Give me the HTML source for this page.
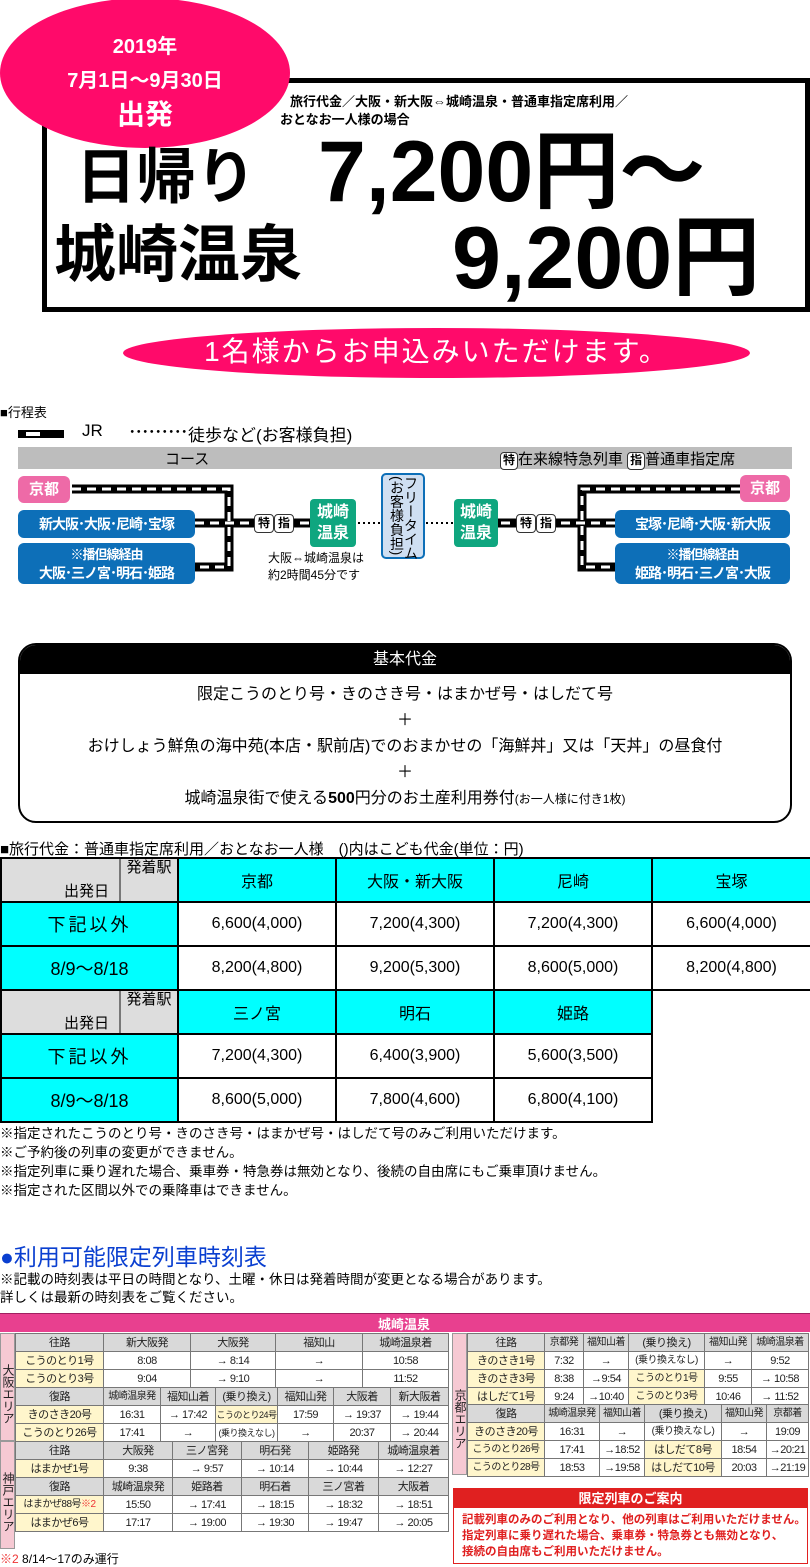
<!DOCTYPE html>
<html><head><meta charset="utf-8">
<style>
*{margin:0;padding:0;box-sizing:border-box}
body{width:810px;height:1567px;position:relative;background:#fff;font-family:"Liberation Sans","Noto Sans CJK JP",sans-serif;color:#000;overflow:hidden}
.a{position:absolute;white-space:nowrap}
.b{font-weight:bold}
table{border-collapse:collapse;table-layout:fixed;position:absolute}
.ft td{border:2px solid #000;text-align:center;font-size:16px;height:44px}
.cy{background:#00ffff}
.tt td{border:1px solid #777;font-size:11px;letter-spacing:-0.5px;text-align:center;height:18px;line-height:16px;padding:0;white-space:nowrap;overflow:hidden;color:#222}
.tt td.d{border-left:1px dashed #999}
.h{background:#d9d9d9}
.y{background:#fff6cc}
.side{position:absolute;background:#f6c9d3;font-size:12px;line-height:13px;text-align:center;writing-mode:vertical-rl;border:1px solid #999;color:#222}
.blue{position:absolute;background:#0d6fb8;color:#fff;border-radius:6px;text-align:center;font-size:14px;letter-spacing:-1px;font-weight:bold;white-space:nowrap}
.pk{position:absolute;background:#ee6aa7;color:#fff;border-radius:6px;text-align:center;font-size:15px;font-weight:bold}
.gr{position:absolute;background:#0fa67f;color:#fff;border-radius:4px;text-align:center;font-size:16px;font-weight:bold;line-height:21px}
.tk{display:inline-block;border:1.5px solid #333;border-radius:4px;background:#fff;font-size:12px;font-weight:bold;width:20px;height:19px;line-height:16px;text-align:center}
</style></head><body>

<!-- header -->
<div class="a" style="left:42px;top:78px;width:768px;height:234px;border:5px solid #000"></div>
<div class="a" style="left:0;top:-2px;width:290px;height:150px;border-radius:50%;background:#ff0a6a"></div>
<div class="a b" style="left:0;top:30px;width:290px;text-align:center;color:#fff;font-size:20px;line-height:34px">2019年<br>7月1日～9月30日<br><span style="font-size:28px">出発</span></div>
<div class="a b" style="left:290px;top:91px;font-size:13px">旅行代金／大阪・新大阪⇔城崎温泉・普通車指定席利用／</div>
<div class="a b" style="left:280px;top:109px;font-size:13px">おとなお一人様の場合</div>
<div class="a b" style="left:76px;top:140px;font-size:60px;line-height:76px">日帰り</div>
<div class="a b" style="left:318px;top:122px;font-size:86px;line-height:100px">7,200円～</div>
<div class="a b" style="left:54px;top:216px;font-size:62px;line-height:80px">城崎温泉</div>
<div class="a b" style="left:452px;top:208px;font-size:88px;line-height:100px">9,200円</div>
<div class="a" style="left:123px;top:328px;width:627px;height:50px;border-radius:50%;background:#ff0a6a"></div>
<div class="a" style="left:123px;top:332px;width:627px;text-align:center;color:#fff;font-size:28px;letter-spacing:2px;line-height:40px">1名様からお申込みいただけます。</div>

<!-- route -->
<div class="a" style="left:0;top:402px;font-size:13px">■行程表</div>
<div class="a" style="left:18px;top:430px;width:46px;height:8px;background:#000"><div style="position:absolute;left:8px;top:2px;width:14px;height:4px;background:#fff"></div></div>
<div class="a" style="left:82px;top:421px;font-size:17px">JR</div>
<div class="a" style="left:128px;top:418px;font-size:17px;letter-spacing:-2px">･････････</div>
<div class="a" style="left:188px;top:421px;font-size:17px">徒歩など(お客様負担)</div>
<div class="a" style="left:18px;top:447px;width:774px;height:22px;background:#bdbdbd"></div>
<div class="a" style="left:165px;top:448px;font-size:15px">コース</div>
<div class="a" style="left:500px;top:448px;font-size:15px"><span class="tk" style="width:18px;height:18px;line-height:15px">特</span>在来線特急列車 <span class="tk" style="width:18px;height:18px;line-height:15px">指</span>普通車指定席</div>

<svg class="a" style="left:0;top:470px" width="810" height="120">
<g fill="none">
<path d="M72 19H229V97H195M195 53H310" stroke="#000" stroke-width="9"/>
<path d="M72 19H229V97H195M195 53H310" stroke="#fff" stroke-width="3" stroke-dasharray="9 6"/>
<path d="M740 19H582V97H615M615 53H498" stroke="#000" stroke-width="9"/>
<path d="M740 19H582V97H615M615 53H498" stroke="#fff" stroke-width="3" stroke-dasharray="9 6"/>
<path d="M358 53H381M426 53H454" stroke="#000" stroke-width="2" stroke-dasharray="2 3"/>
</g></svg>
<div class="a" style="left:254px;top:514px"><span class="tk">特</span><span class="tk">指</span></div>
<div class="a" style="left:516px;top:514px"><span class="tk">特</span><span class="tk">指</span></div>
<div class="pk" style="left:18px;top:476px;width:52px;height:27px;line-height:27px">京都</div>
<div class="blue" style="left:18px;top:510px;width:177px;height:28px;line-height:28px">新大阪･大阪･尼崎･宝塚</div>
<div class="blue" style="left:18px;top:543px;width:177px;height:41px;line-height:19px;padding-top:2px"><span style="font-size:13px">※播但線経由</span><br>大阪･三ノ宮･明石･姫路</div>
<div class="gr" style="left:310px;top:499px;width:46px;height:48px;padding-top:3px">城崎<br>温泉</div>
<div class="a" style="left:381px;top:473px;width:44px;height:86px;border:2px solid #0d6fb8;background:#cfdff2;border-radius:5px"></div>
<div class="a" style="left:390px;top:476px;font-size:14px;line-height:14px;writing-mode:vertical-rl">フリータイム<br>(お客様負担)</div>
<div class="gr" style="left:454px;top:499px;width:44px;height:48px;padding-top:3px">城崎<br>温泉</div>
<div class="a" style="left:268px;top:550px;font-size:12px;line-height:17px">大阪⇔城崎温泉は<br>約2時間45分です</div>
<div class="pk" style="left:740px;top:475px;width:50px;height:27px;line-height:27px">京都</div>
<div class="blue" style="left:615px;top:510px;width:175px;height:28px;line-height:28px">宝塚･尼崎･大阪･新大阪</div>
<div class="blue" style="left:615px;top:543px;width:175px;height:41px;line-height:19px;padding-top:2px"><span style="font-size:13px">※播但線経由</span><br>姫路･明石･三ノ宮･大阪</div>

<!-- base price -->
<div class="a" style="left:18px;top:643px;width:774px;height:180px;border:2px solid #000;border-radius:18px;overflow:hidden">
<div style="background:#000;color:#fff;height:29px;line-height:29px;text-align:center;font-size:16px">基本代金</div>
<div style="text-align:center;font-size:16px;line-height:26px;padding-top:8px">限定こうのとり号・きのさき号・はまかぜ号・はしだて号<br>＋<br>おけしょう鮮魚の海中苑(本店・駅前店)でのおまかせの「海鮮丼」又は「天丼」の昼食付<br>＋<br>城崎温泉街で使える<b>500</b>円分のお土産利用券付<span style="font-size:12px">(お一人様に付き1枚)</span></div>
</div>

<!-- fare table -->
<div class="a" style="left:0;top:838px;font-size:15px">■旅行代金：普通車指定席利用／おとなお一人様　()内はこども代金(単位：円)</div>
<table class="ft" style="left:0;top:857px;width:810px">
<colgroup><col style="width:177px"><col style="width:158px"><col style="width:158px"><col style="width:158px"><col style="width:159px"></colgroup>
<tr><td style="background:#ddd;position:relative;height:44px"><span style="position:absolute;right:0;top:0;width:58px;height:100%;border-left:2px solid #777;font-size:15px;line-height:18px">発着駅</span><span style="position:absolute;left:62px;bottom:0;font-size:15px">出発日</span></td><td class="cy">京都</td><td class="cy">大阪・新大阪</td><td class="cy">尼崎</td><td class="cy">宝塚</td></tr>
<tr><td class="cy" style="font-size:18px;letter-spacing:3px">下記以外</td><td>6,600(4,000)</td><td>7,200(4,300)</td><td>7,200(4,300)</td><td>6,600(4,000)</td></tr>
<tr><td class="cy" style="font-size:18px">8/9～8/18</td><td>8,200(4,800)</td><td>9,200(5,300)</td><td>8,600(5,000)</td><td>8,200(4,800)</td></tr>
<tr><td style="background:#ddd;position:relative"><span style="position:absolute;right:0;top:0;width:58px;height:100%;border-left:2px solid #777;font-size:15px;line-height:18px">発着駅</span><span style="position:absolute;left:62px;bottom:0;font-size:15px">出発日</span></td><td class="cy">三ノ宮</td><td class="cy">明石</td><td class="cy">姫路</td><td style="border:none;border-left:2px solid #000"></td></tr>
<tr><td class="cy" style="font-size:18px;letter-spacing:3px">下記以外</td><td>7,200(4,300)</td><td>6,400(3,900)</td><td>5,600(3,500)</td><td style="border:none;border-left:2px solid #000"></td></tr>
<tr><td class="cy" style="font-size:18px">8/9～8/18</td><td>8,600(5,000)</td><td>7,800(4,600)</td><td>6,800(4,100)</td><td style="border:none;border-left:2px solid #000"></td></tr>
</table>
<div class="a" style="left:0;top:1124px;font-size:13.5px;line-height:19px">※指定されたこうのとり号・きのさき号・はまかぜ号・はしだて号のみご利用いただけます。<br>※ご予約後の列車の変更ができません。<br>※指定列車に乗り遅れた場合、乗車券・特急券は無効となり、後続の自由席にもご乗車頂けません。<br>※指定された区間以外での乗降車はできません。</div>

<div class="a" style="left:0;top:1243px;font-size:23px;color:#0a3fd0;line-height:28px">●利用可能限定列車時刻表</div>
<div class="a" style="left:0;top:1271px;font-size:13.5px;line-height:18px">※記載の時刻表は平日の時間となり、土曜・休日は発着時間が変更となる場合があります。<br>詳しくは最新の時刻表をご覧ください。</div>

<!-- timetable -->
<div class="a" style="left:0;top:1313px;width:810px;height:19px;background:#e8408f;border-top:1px solid #a02060"></div>
<div class="a b" style="left:378px;top:1314px;color:#fff;font-size:13px">城崎温泉</div>

<div class="side" style="left:0;top:1333px;width:15px;height:108px;padding-top:14px">大阪エリア</div>
<table class="tt" style="left:15px;top:1333px;width:433px">
<colgroup><col style="width:88px"><col style="width:87px"><col style="width:85px"><col style="width:87px"><col style="width:86px"></colgroup>
<tr><td class="h">往路</td><td class="h">新大阪発</td><td class="h d">大阪発</td><td class="h d">福知山</td><td class="h d">城崎温泉着</td></tr>
<tr><td class="y">こうのとり1号</td><td>8:08</td><td class="d">→ 8:14</td><td class="d">→</td><td class="d">10:58</td></tr>
<tr><td class="y">こうのとり3号</td><td>9:04</td><td class="d">→ 9:10</td><td class="d">→</td><td class="d">11:52</td></tr>
</table>
<table class="tt" style="left:15px;top:1387px;width:433px">
<colgroup><col style="width:88px"><col style="width:57px"><col style="width:55px"><col style="width:62px"><col style="width:56px"><col style="width:57px"><col style="width:58px"></colgroup>
<tr><td class="h">復路</td><td class="h" style="font-size:10px">城崎温泉発</td><td class="h d">福知山着</td><td class="h">(乗り換え)</td><td class="h">福知山発</td><td class="h d">大阪着</td><td class="h d">新大阪着</td></tr>
<tr><td class="y">きのさき20号</td><td>16:31</td><td class="d">→ 17:42</td><td class="y" style="font-size:9px">こうのとり24号</td><td>17:59</td><td class="d">→ 19:37</td><td class="d">→ 19:44</td></tr>
<tr><td class="y">こうのとり26号</td><td>17:41</td><td class="d">→</td><td style="font-size:9px">(乗り換えなし)</td><td>→</td><td class="d">20:37</td><td class="d">→ 20:44</td></tr>
<tr><td class="y">こうのとり28号</td><td>18:53</td><td class="d">→</td><td style="font-size:9px">(乗り換えなし)</td><td>→</td><td class="d">21:36</td><td class="d">→ 21:44</td></tr>
</table>
<div class="side" style="left:0;top:1441px;width:15px;height:108px;padding-top:14px">神戸エリア</div>
<table class="tt" style="left:15px;top:1441px;width:433px">
<colgroup><col style="width:88px"><col style="width:69px"><col style="width:69px"><col style="width:67px"><col style="width:70px"><col style="width:70px"></colgroup>
<tr><td class="h">往路</td><td class="h">大阪発</td><td class="h d">三ノ宮発</td><td class="h d">明石発</td><td class="h d">姫路発</td><td class="h d">城崎温泉着</td></tr>
<tr><td class="y">はまかぜ1号</td><td>9:38</td><td class="d">→ 9:57</td><td class="d">→ 10:14</td><td class="d">→ 10:44</td><td class="d">→ 12:27</td></tr>
<tr><td class="h">復路</td><td class="h">城崎温泉発</td><td class="h d">姫路着</td><td class="h d">明石着</td><td class="h d">三ノ宮着</td><td class="h d">大阪着</td></tr>
<tr><td class="y" style="font-size:10px">はまかぜ88号<span style="color:#e33">※2</span></td><td>15:50</td><td class="d">→ 17:41</td><td class="d">→ 18:15</td><td class="d">→ 18:32</td><td class="d">→ 18:51</td></tr>
<tr><td class="y">はまかぜ6号</td><td>17:17</td><td class="d">→ 19:00</td><td class="d">→ 19:30</td><td class="d">→ 19:47</td><td class="d">→ 20:05</td></tr>
</table>
<div class="a" style="left:0;top:1550px;font-size:12px"><span style="color:#e33">※2</span> 8/14～17のみ運行</div>

<div class="side" style="left:452px;top:1333px;width:15px;height:142px;padding-top:30px">京都エリア</div>
<table class="tt" style="left:467px;top:1333px;width:341px">
<colgroup><col style="width:77px"><col style="width:39px"><col style="width:45px"><col style="width:76px"><col style="width:47px"><col style="width:57px"></colgroup>
<tr><td class="h">往路</td><td class="h" style="font-size:10px">京都発</td><td class="h d" style="font-size:10px">福知山着</td><td class="h">(乗り換え)</td><td class="h" style="font-size:10px">福知山発</td><td class="h d" style="font-size:10px">城崎温泉着</td></tr>
<tr><td class="y">きのさき1号</td><td>7:32</td><td class="d">→</td><td style="font-size:10px">(乗り換えなし)</td><td>→</td><td class="d">9:52</td></tr>
<tr><td class="y">きのさき3号</td><td>8:38</td><td class="d">→9:54</td><td class="y" style="font-size:10px">こうのとり1号</td><td>9:55</td><td class="d">→ 10:58</td></tr>
<tr><td class="y">はしだて1号</td><td>9:24</td><td class="d">→10:40</td><td class="y" style="font-size:10px">こうのとり3号</td><td>10:46</td><td class="d">→ 11:52</td></tr>
</table>
<table class="tt" style="left:467px;top:1404px;width:341px">
<colgroup><col style="width:77px"><col style="width:55px"><col style="width:45px"><col style="width:77px"><col style="width:45px"><col style="width:42px"></colgroup>
<tr><td class="h">復路</td><td class="h" style="font-size:10px">城崎温泉発</td><td class="h d" style="font-size:10px">福知山着</td><td class="h">(乗り換え)</td><td class="h" style="font-size:10px">福知山発</td><td class="h d" style="font-size:10px">京都着</td></tr>
<tr><td class="y">きのさき20号</td><td>16:31</td><td class="d">→</td><td style="font-size:10px">(乗り換えなし)</td><td>→</td><td class="d">19:09</td></tr>
<tr><td class="y" style="font-size:10px">こうのとり26号</td><td>17:41</td><td class="d">→18:52</td><td class="y">はしだて8号</td><td>18:54</td><td class="d">→20:21</td></tr>
<tr><td class="y" style="font-size:10px">こうのとり28号</td><td>18:53</td><td class="d">→19:58</td><td class="y">はしだて10号</td><td>20:03</td><td class="d">→21:19</td></tr>
</table>

<div class="a" style="left:453px;top:1488px;width:355px;height:76px;border:1.5px solid #e02020">
<div style="background:#e02020;color:#fff;font-weight:bold;font-size:13px;height:19px;line-height:19px;text-align:center">限定列車のご案内</div>
<div style="color:#e02020;font-weight:bold;font-size:11.5px;line-height:16px;padding:4px 0 0 8px;white-space:nowrap">記載列車のみのご利用となり、他の列車はご利用いただけません。<br>指定列車に乗り遅れた場合、乗車券・特急券とも無効となり、<br>接続の自由席もご利用いただけません。</div>
</div>
</body></html>
